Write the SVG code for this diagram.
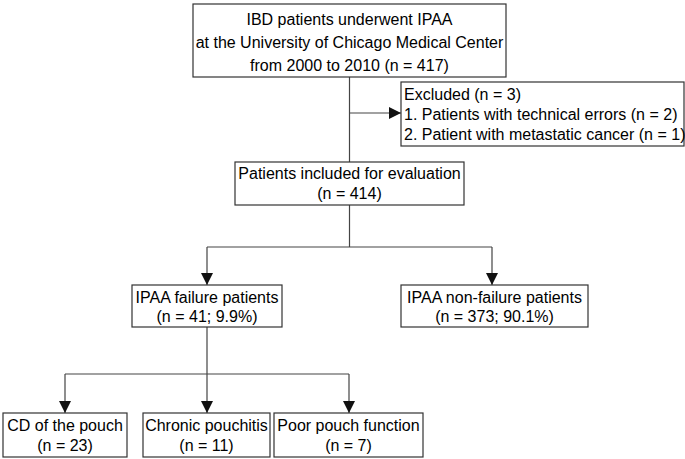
<svg xmlns="http://www.w3.org/2000/svg" width="685" height="459" viewBox="0 0 685 459">
<style>
.box{fill:#fff;stroke:#333;stroke-width:1.2}
.t{font-family:"Liberation Sans",Arial,sans-serif;font-size:16px;fill:#000}
.c{text-anchor:middle}
.ln{fill:none;stroke:#444;stroke-width:1.2}
</style>
<defs>
<marker id="ah" viewBox="0 0 12 12" refX="12" refY="6" markerWidth="12" markerHeight="12" markerUnits="userSpaceOnUse" orient="auto">
<path d="M0,0 L12,6 L0,12 Z" fill="#111"/>
</marker>
</defs>
<rect width="685" height="459" fill="#fff"/>
<g id="connectors">
<line class="ln" x1="349.5" y1="77" x2="349.5" y2="162"/>
<line class="ln" x1="349.5" y1="113" x2="401" y2="113" marker-end="url(#ah)"/>
<line class="ln" x1="349.5" y1="205" x2="349.5" y2="247"/>
<line class="ln" x1="207" y1="247" x2="492" y2="247"/>
<line class="ln" x1="207" y1="247" x2="207" y2="285" marker-end="url(#ah)"/>
<line class="ln" x1="492" y1="247" x2="492" y2="285" marker-end="url(#ah)"/>
<line class="ln" x1="207" y1="327" x2="207" y2="413" marker-end="url(#ah)"/>
<line class="ln" x1="65" y1="374" x2="349" y2="374"/>
<line class="ln" x1="65" y1="374" x2="65" y2="413" marker-end="url(#ah)"/>
<line class="ln" x1="349" y1="374" x2="349" y2="413" marker-end="url(#ah)"/>
</g>
<g id="n_top">
<rect class="box" x="193" y="4" width="313" height="73"/>
<text class="t c" x="349.5" y="25">IBD patients underwent IPAA</text>
<text class="t c" x="349.5" y="48">at the University of Chicago Medical Center</text>
<text class="t c" x="349.5" y="71">from 2000 to 2010 (n = 417)</text>
</g>
<g id="n_excluded">
<rect class="box" x="401" y="82" width="283" height="64"/>
<text class="t" x="404" y="100">Excluded (n = 3)</text>
<text class="t" x="404" y="120">1. Patients with technical errors (n = 2)</text>
<text class="t" x="404" y="140">2. Patient with metastatic cancer (n = 1)</text>
</g>
<g id="n_included">
<rect class="box" x="235" y="162" width="229" height="43"/>
<text class="t c" x="349.5" y="179">Patients included for evaluation</text>
<text class="t c" x="349.5" y="199">(n = 414)</text>
</g>
<g id="n_failure">
<rect class="box" x="132" y="285" width="150" height="42"/>
<text class="t c" x="207" y="303">IPAA failure patients</text>
<text class="t c" x="207" y="322">(n = 41; 9.9%)</text>
</g>
<g id="n_nonfailure">
<rect class="box" x="401" y="285" width="187" height="42"/>
<text class="t c" x="494.5" y="303">IPAA non-failure patients</text>
<text class="t c" x="494.5" y="322">(n = 373; 90.1%)</text>
</g>
<g id="n_cd">
<rect class="box" x="3" y="413" width="124" height="44"/>
<text class="t c" x="65" y="431">CD of the pouch</text>
<text class="t c" x="65" y="451">(n = 23)</text>
</g>
<g id="n_chronic">
<rect class="box" x="143" y="413" width="127" height="44"/>
<text class="t c" x="206.5" y="431">Chronic pouchitis</text>
<text class="t c" x="206.5" y="451">(n = 11)</text>
</g>
<g id="n_poor">
<rect class="box" x="274" y="413" width="149" height="44"/>
<text class="t c" x="348.5" y="431">Poor pouch function</text>
<text class="t c" x="348.5" y="451">(n = 7)</text>
</g>
</svg>
